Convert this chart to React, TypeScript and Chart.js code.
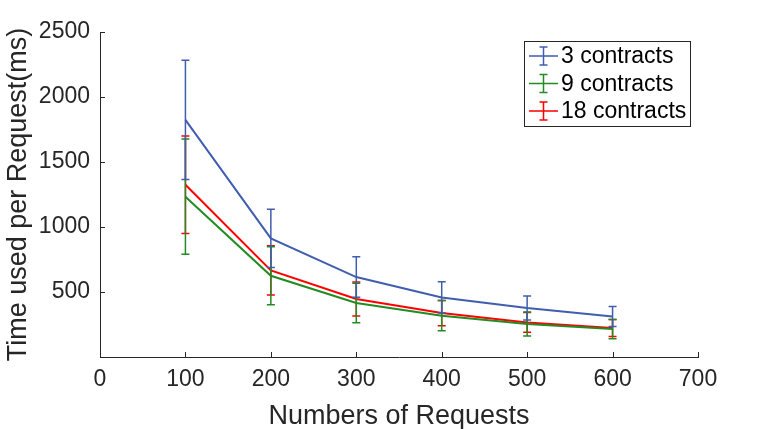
import React, { useEffect, useRef } from "react";
import { Chart, registerables } from "chart.js";

Chart.register(...registerables);

const requests = [100, 200, 300, 400, 500, 600];

const labels = ["3 contracts", "9 contracts", "18 contracts"];
const colors = ["rgb(64,94,176)", "rgb(34,139,34)", "rgb(255,0,0)"];

const mean3 = [1824, 912, 615, 458, 377, 312];
const err3 = [458, 224, 156, 120, 92, 77];
const mean9 = [1233, 625, 415, 318, 254, 215];
const err9 = [443, 223, 152, 116, 92, 74];
const mean18 = [1325, 666, 446, 338, 266, 223];
const err18 = [375, 190, 130, 97, 76, 65];

const means = [mean3, mean9, mean18];
const errs = [err3, err9, err18];

const xTicks = [0, 100, 200, 300, 400, 500, 600, 700];
const yTicks = [500, 1000, 1500, 2000, 2500];

const FONT = "'Liberation Sans', Arial, Helvetica, sans-serif";
const INK = "#262626";

// error bars, tick marks and the boxed legend
const extras = {
  id: "extras",
  afterDatasetDraw(chart: any, args: any) {
    const i = args.index;
    const ctx = chart.ctx;
    const xs = chart.scales.x;
    const ys = chart.scales.y;
    ctx.save();
    ctx.strokeStyle = colors[i];
    ctx.lineWidth = 1.5;
    requests.forEach((r, j) => {
      const px = xs.getPixelForValue(r);
      const top = ys.getPixelForValue(means[i][j] + errs[i][j]);
      const bot = ys.getPixelForValue(means[i][j] - errs[i][j]);
      ctx.beginPath();
      ctx.moveTo(px, top);
      ctx.lineTo(px, bot);
      ctx.moveTo(px - 4, top);
      ctx.lineTo(px + 4, top);
      ctx.moveTo(px - 4, bot);
      ctx.lineTo(px + 4, bot);
      ctx.stroke();
    });
    ctx.restore();
  },
  afterDraw(chart: any) {
    const ctx = chart.ctx;
    const xs = chart.scales.x;
    const ys = chart.scales.y;
    const area = chart.chartArea;
    ctx.save();
    ctx.strokeStyle = INK;
    ctx.lineWidth = 1;
    ctx.beginPath();
    xTicks.forEach((t) => {
      if (t === 0) return;
      const px = Math.round(xs.getPixelForValue(t)) + 0.5;
      ctx.moveTo(px, area.bottom);
      ctx.lineTo(px, area.bottom - 5);
    });
    yTicks.forEach((t) => {
      const py = Math.round(ys.getPixelForValue(t)) + 0.5;
      ctx.moveTo(area.left, py);
      ctx.lineTo(area.left + 5, py);
    });
    ctx.stroke();

    // legend
    const lx = 524;
    const ly = 41;
    const lw = 166;
    const lh = 85;
    ctx.fillStyle = "#fff";
    ctx.fillRect(lx, ly, lw, lh);
    ctx.strokeStyle = INK;
    ctx.strokeRect(lx + 0.5, ly + 0.5, lw, lh);
    ctx.font = "23px " + FONT;
    ctx.textBaseline = "middle";
    ctx.textAlign = "left";
    labels.forEach((lab, i) => {
      const cy = 56 + i * 27.5;
      ctx.strokeStyle = colors[i];
      ctx.lineWidth = 1.5;
      ctx.beginPath();
      ctx.moveTo(529, cy);
      ctx.lineTo(558, cy);
      ctx.moveTo(543.5, cy - 9);
      ctx.lineTo(543.5, cy + 9);
      ctx.moveTo(539.5, cy - 9);
      ctx.lineTo(547.5, cy - 9);
      ctx.moveTo(539.5, cy + 9);
      ctx.lineTo(547.5, cy + 9);
      ctx.stroke();
      ctx.fillStyle = "#000";
      ctx.fillText(lab, 561, cy + 1);
    });
    ctx.restore();
  },
};

const App: React.FC = () => {
  const canvasRef = useRef<HTMLCanvasElement | null>(null);

  useEffect(() => {
    if (!canvasRef.current) return;
    const ctx = canvasRef.current.getContext("2d");
    if (!ctx) return;
    const chart = new Chart(ctx, {
      type: "line",
      data: {
        datasets: labels.map((lab, i) => ({
          label: lab,
          data: requests.map((r, j) => ({ x: r, y: means[i][j] })),
          borderColor: colors[i],
          backgroundColor: colors[i],
          borderWidth: 2,
          pointRadius: 0,
          tension: 0,
        })),
      },
      options: {
        responsive: false,
        animation: false,
        layout: { padding: { top: 32, right: 74, left: 0, bottom: 0 } },
        plugins: {
          legend: { display: false },
          tooltip: { enabled: false },
        },
        scales: {
          x: {
            type: "linear",
            min: 0,
            max: 700,
            grid: { display: false },
            border: { display: true, color: INK, width: 1 },
            ticks: {
              stepSize: 100,
              color: INK,
              padding: 1,
              maxRotation: 0,
              font: { family: FONT, size: 23 },
            },
            title: {
              display: true,
              text: "Numbers of Requests",
              color: INK,
              font: { family: FONT, size: 27, lineHeight: 0.95 },
              padding: { top: 0, bottom: 0 },
            },
            afterFit: (s: any) => {
              s.height = 72;
            },
          },
          y: {
            type: "linear",
            min: 0,
            max: 2500,
            grid: { display: false },
            border: { display: true, color: INK, width: 1 },
            ticks: {
              stepSize: 500,
              color: INK,
              padding: 2,
              font: { family: FONT, size: 23 },
              callback: (v: any) => (v === 0 ? "" : String(v)),
            },
            title: {
              display: true,
              text: "Time used per Request(ms)",
              color: INK,
              font: { family: FONT, size: 27, lineHeight: 1.05 },
              padding: { top: 4, bottom: 0 },
            },
            afterFit: (s: any) => {
              s.width = 100;
            },
          },
        },
      },
      plugins: [extras],
    });
    return () => {
      chart.destroy();
    };
  }, []);

  return (
    <div style={{ position: "fixed", left: 0, top: 0, width: 772, height: 429, background: "#fff" }}>
      <canvas ref={canvasRef} width={772} height={429} />
    </div>
  );
};

export default App;
